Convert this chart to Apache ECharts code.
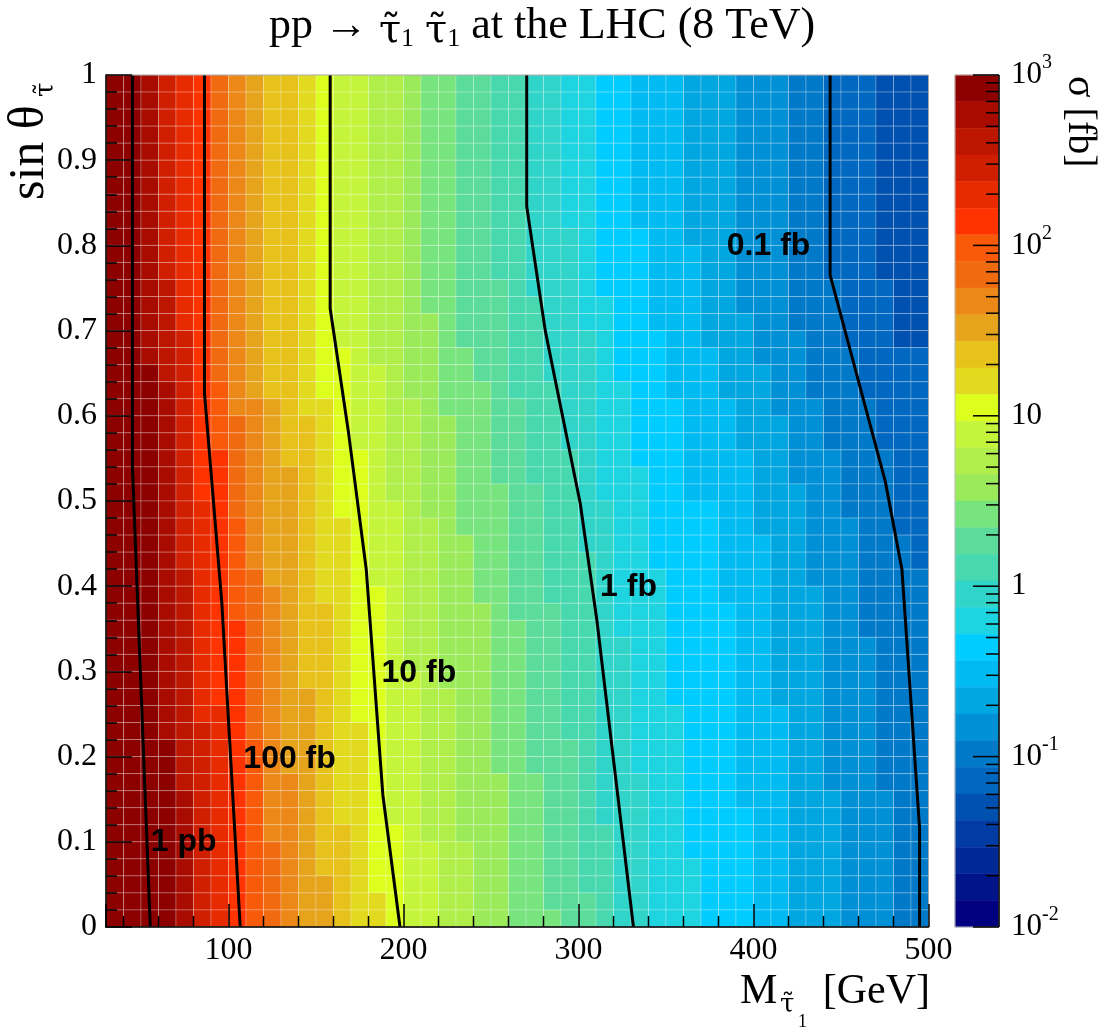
<!DOCTYPE html>
<html>
<head>
<meta charset="utf-8">
<title>pp → stau stau at the LHC (8 TeV)</title>
<script src="https://cdn.jsdelivr.net/npm/echarts@6.0.0/dist/echarts.min.js"></script>
<style>
html,body{margin:0;padding:0;background:#fff;}
#chart{width:1100px;height:1035px;}
</style>
</head>
<body>
<div id="chart"></div>
<script>
// ---------------- DATA ----------------
// stau mass bin centres (GeV), bin width 10 GeV
const massBins = [35,45,55,65,75,85,95,105,115,125,135,145,155,165,175,185,195,205,215,225,235,245,255,265,275,285,295,305,315,325,335,345,355,365,375,385,395,405,415,425,435,445,455,465,475,485,495];
// sin(theta) bin centres, top row first, bin width 0.02
const sinBins = [0.99,0.97,0.95,0.93,0.91,0.89,0.87,0.85,0.83,0.81,0.79,0.77,0.75,0.73,0.71,0.69,0.67,0.65,0.63,0.61,0.59,0.57,0.55,0.53,0.51,0.49,0.47,0.45,0.43,0.41,0.39,0.37,0.35,0.33,0.31,0.29,0.27,0.25,0.23,0.21,0.19,0.17,0.15,0.13,0.11,0.09,0.07,0.05,0.03,0.01];
const massHalfBin = 5;
const sinHalfBin = 0.01;
// colour-scale range of sigma [fb] and the 32 palette levels (level 0 = highest sigma)
const zMax = 1000;
const zMin = 0.01;
const colorLevels = ['#8c0000','#a80c00','#bc1600','#d01e00','#e82a00','#ff3300','#f85a0a','#f06a10','#ec8818','#e6a41c','#e6c21a','#e2da1e','#dcff1e','#c5f53a','#b0ee4a','#9aea5a','#78e47e','#5cdc9a','#48d8b0','#30d4c8','#1ed4e0','#00ccff','#00baf2','#00a6e0','#0090d6','#007ac8','#0068c0','#0050b0','#003ca4','#002896','#00148a','#000080'];
// sigma colour level read per cell: for each mass column, runs of [level, first row (from top)]
const cellRuns = [
  [[0,0]],
  [[0,0]],
  [[1,0],[0,17]],
  [[3,0],[2,12],[1,18],[0,39]],
  [[4,0],[3,15],[2,29],[1,42]],
  [[5,0],[4,25],[3,38]],
  [[7,0],[6,18],[5,22],[4,37]],
  [[8,0],[7,20],[6,26],[5,32]],
  [[9,0],[8,19],[7,29],[6,39]],
  [[10,0],[9,19],[8,30],[7,45]],
  [[10,0],[9,23],[8,41]],
  [[11,0],[10,20],[9,36]],
  [[12,0],[11,19],[10,31],[9,47]],
  [[13,0],[12,16],[11,26],[10,44]],
  [[13,0],[12,22],[11,38]],
  [[14,0],[13,17],[12,30],[11,48]],
  [[14,0],[13,25],[12,44]],
  [[15,0],[14,19],[13,35]],
  [[16,0],[15,14],[14,26],[13,45]],
  [[16,0],[15,20],[14,36]],
  [[17,0],[16,16],[15,27],[14,45]],
  [[17,0],[16,18],[15,31]],
  [[18,0],[17,12],[16,24],[15,41]],
  [[18,0],[17,19],[16,32]],
  [[19,0],[18,13],[17,24],[16,41]],
  [[19,0],[18,18],[17,31],[16,49]],
  [[20,0],[19,9],[18,22],[17,39]],
  [[20,0],[19,15],[18,28],[17,48]],
  [[21,0],[20,13],[19,25],[18,44]],
  [[21,0],[20,18],[19,33]],
  [[22,0],[21,9],[20,23],[19,41]],
  [[22,0],[21,15],[20,29]],
  [[22,0],[21,19],[20,37]],
  [[23,0],[22,10],[21,25],[20,46]],
  [[23,0],[22,16],[21,25]],
  [[23,0],[22,19],[21,31]],
  [[24,0],[23,14],[22,22],[21,43]],
  [[24,0],[23,17],[22,27]],
  [[24,0],[23,20],[22,37]],
  [[25,0],[24,15],[23,24]],
  [[25,0],[24,19],[23,30]],
  [[26,0],[25,12],[24,22],[23,42]],
  [[26,0],[25,16],[24,26]],
  [[26,0],[25,19],[24,33]],
  [[27,0],[26,12],[25,22],[24,42]],
  [[27,0],[26,16],[25,27]],
  [[27,0],[26,16],[25,29]]
];
// iso-cross-section contours [M, sin(theta)]
const contour1pb   = [[45.1,1],[45.1,0.54],[55.3,0]];
const contour100fb = [[86.3,1],[86.3,0.626],[96.2,0.38],[106.7,0]];
const contour10fb  = [[158.1,1],[158.1,0.726],[168.6,0.58],[178.7,0.42],[188.2,0.155],[198,0]];
const contour1fb   = [[270.4,1],[270.4,0.846],[281,0.70],[301,0.497],[310.5,0.36],[331.4,0]];
const contour01fb  = [[443.8,1],[443.8,0.765],[475.3,0.523],[484.8,0.42],[494.9,0.116],[494.9,0]];
const contourLabelText = ['1 pb','100 fb','10 fb','1 fb','0.1 fb'];
const contourLabelM = [74.4,134.9,208.8,328.6,408.6];
const contourLabelS = [0.099,0.197,0.298,0.399,0.799];
// ticks
const xMajorTicks = [100,200,300,400,500];
const xMinorTicks = [40,60,80,120,140,160,180,220,240,260,280,320,340,360,380,420,440,460,480];
const zMajorTicks = [0.01,0.1,1,10,100,1000];
const zMinorTicks = [0.02,0.03,0.04,0.05,0.06,0.07,0.08,0.09,0.2,0.3,0.4,0.5,0.6,0.7,0.8,0.9,2,3,4,5,6,7,8,9,20,30,40,50,60,70,80,90,200,300,400,500,600,700,800,900];

// ---------------- BUILD ----------------
const SERIF = '"Liberation Serif","Times New Roman",Times,serif';
const GREEK = '"DejaVu Serif",serif';
const SANS = '"Liberation Sans",Arial,Helvetica,sans-serif';

const cellData = [];
cellRuns.forEach(function (runs, c) {
  sinBins.forEach(function (s, r) {
    let lvl = runs[0][0];
    runs.forEach(function (run) { if (r >= run[1]) lvl = run[0]; });
    cellData.push([massBins[c], s, lvl]);
  });
});

const logMax = Math.log10(zMax), logMin = Math.log10(zMin);
const levelStep = (logMax - logMin) / colorLevels.length;
const bandData = colorLevels.map(function (c, i) {
  return [0.5, Math.pow(10, logMax - i * levelStep), Math.pow(10, logMax - (i + 1) * levelStep), i];
});

const contourSets = [contour1pb, contour100fb, contour10fb, contour1fb, contour01fb];
const labelData = contourLabelText.map(function (t, i) { return [contourLabelM[i], contourLabelS[i], i]; });

// colour-bar ticks: [x, value, length]
const zTickData = zMajorTicks.map(function (v) { return [1, v, 26]; })
  .concat(zMinorTicks.map(function (v) { return [1, v, 13]; }));

function lineSeries(d) {
  return { type: 'line', xAxisIndex: 0, yAxisIndex: 0, data: d, symbol: 'none', z: 4, silent: true,
    lineStyle: { color: '#000', width: 3 }, clip: true };
}

function baseY(y, f) { return y - 0.31 * f; }

const chart = echarts.init(document.getElementById('chart'), null, { renderer: 'canvas', width: 1100, height: 1035 });

const option = {
  animation: false,
  backgroundColor: '#ffffff',
  grid: [
    { left: 106, top: 75, width: 822.5, height: 852, show: true, borderColor: '#a8a8a8', borderWidth: 1, backgroundColor: 'transparent', z: 6 },
    { left: 955, top: 75, width: 44, height: 852, show: true, borderColor: '#c0c0c0', borderWidth: 1, backgroundColor: 'transparent', z: 6 }
  ],
  xAxis: [
    { gridIndex: 0, type: 'value', min: 30, max: 500, z: 10,
      axisLine: { show: true, onZero: false, lineStyle: { color: '#000', width: 1.5 } },
      axisTick: { show: true, inside: true, length: 23, lineStyle: { color: '#000', width: 1.5 } },
      axisLabel: { show: true, fontFamily: SERIF, fontSize: 32, color: '#000', margin: 8,
        formatter: function (v) { return xMajorTicks.indexOf(v) >= 0 ? String(v) : ''; } },
      splitLine: { show: false } },
    { gridIndex: 1, type: 'value', min: 0, max: 1, show: false }
  ],
  yAxis: [
    { gridIndex: 0, type: 'value', min: 0, max: 1, interval: 0.1, z: 10,
      axisLine: { show: true, onZero: false, lineStyle: { color: '#000', width: 1.5 } },
      axisTick: { show: true, inside: true, length: 26, lineStyle: { color: '#000', width: 1.5 } },
      minorTick: { show: true, splitNumber: 5, length: 11, lineStyle: { color: '#000', width: 1.5 } },
      axisLabel: { show: true, fontFamily: SERIF, fontSize: 32, color: '#000', margin: 9 },
      splitLine: { show: false }, minorSplitLine: { show: false } },
    { gridIndex: 1, type: 'log', logBase: 10, min: zMin, max: zMax, position: 'right', z: 10,
      axisLine: { show: false },
      axisTick: { show: false },
      axisLabel: { show: true, margin: 12,
        formatter: function (v) {
          const e = Math.round(Math.log10(v));
          if (e === 0) return '{b|1}';
          if (e === 1) return '{b|10}';
          return '{b|10}{s|' + e + '}';
        },
        rich: {
          b: { fontFamily: SERIF, fontSize: 31, color: '#000', lineHeight: 44 },
          s: { fontFamily: SERIF, fontSize: 20, color: '#000', lineHeight: 20, verticalAlign: 'top' }
        } },
      splitLine: { show: false } }
  ],
  series: [
    { type: 'custom', name: 'sigma', xAxisIndex: 0, yAxisIndex: 0, data: cellData, z: 1, silent: true,
      encode: { x: 0, y: 1 },
      renderItem: function (params, api) {
        const m = api.value(0), s = api.value(1), lvl = api.value(2);
        const a = api.coord([m - massHalfBin, s + sinHalfBin]);
        const b = api.coord([m + massHalfBin, s - sinHalfBin]);
        return { type: 'rect', shape: { x: a[0], y: a[1], width: b[0] - a[0], height: b[1] - a[1] },
          style: { fill: colorLevels[lvl], stroke: 'rgba(255,255,255,0.24)', lineWidth: 1 } };
      } }
  ].concat(contourSets.map(lineSeries)).concat([
    { type: 'custom', name: 'labels', xAxisIndex: 0, yAxisIndex: 0, data: labelData, z: 5, silent: true,
      renderItem: function (params, api) {
        const p = api.coord([api.value(0), api.value(1)]);
        return { type: 'text', x: p[0], y: p[1],
          style: { text: contourLabelText[api.value(2)], font: 'bold 32px ' + SANS, fill: '#000', align: 'center', verticalAlign: 'middle' } };
      } },
    { type: 'custom', name: 'xminor', xAxisIndex: 0, yAxisIndex: 0, data: xMinorTicks.map(function (v) { return [v, 0]; }), z: 10, silent: true,
      renderItem: function (params, api) {
        const p = api.coord([api.value(0), 0]);
        return { type: 'line', shape: { x1: p[0], y1: p[1], x2: p[0], y2: p[1] - 11 }, style: { stroke: '#000', lineWidth: 1.5 } };
      } },
    { type: 'custom', name: 'colorbar', xAxisIndex: 1, yAxisIndex: 1, data: bandData, z: 1, silent: true,
      encode: { x: 0, y: [1, 2] },
      renderItem: function (params, api) {
        const a = api.coord([0, api.value(1)]);
        const b = api.coord([1, api.value(2)]);
        return { type: 'rect', shape: { x: a[0], y: a[1], width: b[0] - a[0], height: b[1] - a[1] },
          style: { fill: colorLevels[api.value(3)], stroke: colorLevels[api.value(3)], lineWidth: 0.5 } };
      } },
    { type: 'custom', name: 'zticks', xAxisIndex: 1, yAxisIndex: 1, data: zTickData, z: 10, silent: true,
      renderItem: function (params, api) {
        const p = api.coord([1, api.value(1)]);
        return { type: 'line', shape: { x1: p[0], y1: p[1], x2: p[0] - api.value(2), y2: p[1] }, style: { stroke: '#000', lineWidth: 1.5 } };
      } },
    { type: 'custom', name: 'zaxis', xAxisIndex: 1, yAxisIndex: 1, data: [[1, zMin, zMax]], z: 10, silent: true,
      renderItem: function (params, api) {
        const a = api.coord([1, api.value(1)]);
        const b = api.coord([1, api.value(2)]);
        return { type: 'line', shape: { x1: a[0], y1: a[1], x2: b[0], y2: b[1] }, style: { stroke: '#000', lineWidth: 1.5 } };
      } }
  ]),
  graphic: [
    { type: 'text', x: 542, y: 26, z: 20,
      style: { text: '{a|pp → }{t|τ̃}{s|1}{a| }{t|τ̃}{s|1}{a| at the LHC (8 TeV)}', align: 'center', verticalAlign: 'middle',
        rich: { a: { font: '44px ' + SERIF, fill: '#000', lineHeight: 52 },
                t: { font: '40px ' + GREEK, fill: '#000', lineHeight: 48, verticalAlign: 'bottom' },
                s: { font: '26px ' + SERIF, fill: '#000', lineHeight: 26, verticalAlign: 'bottom' } } } },
    { type: 'text', x: 740, y: baseY(1005, 42), z: 20, style: { text: 'M', font: '42px ' + SERIF, fill: '#000', align: 'left', verticalAlign: 'middle' } },
    { type: 'text', x: 780, y: baseY(1013, 26), z: 20, style: { text: 'τ̃', font: '26px ' + GREEK, fill: '#000', align: 'left', verticalAlign: 'middle' } },
    { type: 'text', x: 798, y: baseY(1028, 18), z: 20, style: { text: '1', font: '18px ' + SERIF, fill: '#000', align: 'left', verticalAlign: 'middle' } },
    { type: 'text', x: 930, y: baseY(1005, 42), z: 20, style: { text: '[GeV]', font: '42px ' + SERIF, fill: '#000', align: 'right', verticalAlign: 'middle' } },
    { type: 'group', x: 45, y: 200, rotation: Math.PI / 2, z: 20, children: [
      { type: 'text', x: 0, y: baseY(0, 50), style: { text: 'sin θ', font: '50px ' + SERIF, fill: '#000', align: 'left', verticalAlign: 'middle' } },
      { type: 'text', x: 103, y: baseY(9, 26), style: { text: 'τ̃', font: '26px ' + GREEK, fill: '#000', align: 'left', verticalAlign: 'middle' } }
    ] },
    { type: 'text', x: 1067, y: 76, rotation: -Math.PI / 2, z: 20,
      style: { text: 'σ [fb]', font: '40px ' + SERIF, fill: '#000', align: 'left', verticalAlign: 'middle', x: 0, y: baseY(0, 40) } }
  ]
};
chart.setOption(option);
</script>
</body>
</html>
